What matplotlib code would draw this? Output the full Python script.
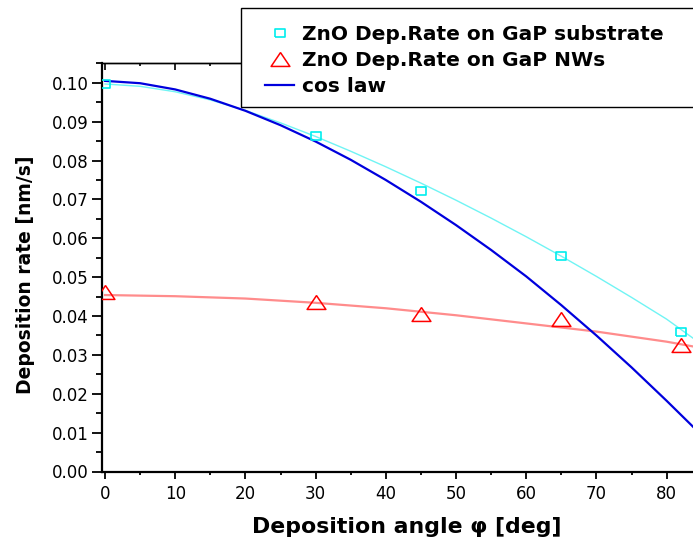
import matplotlib
matplotlib.use('Agg')
import matplotlib.pyplot as plt
from matplotlib.ticker import MultipleLocator, FormatStrFormatter
from matplotlib.lines import Line2D
from matplotlib.patches import Rectangle

# measured points
angle = [0, 30, 45, 65, 82]
rate_substrate = [0.0998, 0.0863, 0.0721, 0.0554, 0.0360]
rate_nws = [0.0461, 0.0435, 0.0405, 0.0393, 0.0326]

# fitted curves
fit_angle = [0, 5, 10, 15, 20, 25, 30, 35, 40, 45, 50, 55, 60, 65, 70, 75, 80, 84]
fit_substrate = [0.0997, 0.0991, 0.0977, 0.0956, 0.0929, 0.0897, 0.0862, 0.0824, 0.0784,
                 0.0742, 0.0698, 0.0652, 0.0604, 0.0554, 0.0502, 0.0448, 0.0392, 0.0340]
red_angle = [0, 10, 20, 30, 40, 50, 60, 70, 80, 84]
fit_nws = [0.0454, 0.0451, 0.0445, 0.0434, 0.0420, 0.0402, 0.0381, 0.0360, 0.0334, 0.0321]

# cos law curve
cos_rate = [0.1005, 0.0999, 0.0983, 0.0959, 0.0928, 0.0891, 0.0849, 0.0802, 0.0750,
            0.0694, 0.0634, 0.0570, 0.0502, 0.0428, 0.0350, 0.0268, 0.0182, 0.0111]

labels = ['ZnO Dep.Rate on GaP substrate', 'ZnO Dep.Rate on GaP NWs', 'cos law']

# wide-ish markers, the picture looks stretched horizontally
sq = [(-1.25, -1), (1.25, -1), (1.25, 1), (-1.25, 1), (-1.25, -1)]
tri = [(0, 1), (-1.35, -1), (1.35, -1), (0, 1)]

cyan = '#00eeee'
cyan_line = '#70f4f4'
red = '#ff0000'
red_line = '#ff8c8c'
blue = '#0000dd'

fig = plt.figure(figsize=(6.93, 5.42), dpi=100)
ax = fig.add_axes([102.3 / 693, 1 - 471.5 / 542, (701.7 - 102.3) / 693, (471.5 - 63) / 542])

ax.plot(fit_angle, fit_substrate, color=cyan_line, lw=1.0, zorder=2)
ax.plot(red_angle, fit_nws, color=red_line, lw=1.6, zorder=2)
ax.plot(fit_angle, cos_rate, color=blue, lw=1.6, zorder=3)
ax.plot(angle, rate_substrate, ls='none', marker=sq, ms=7, mfc='none', mec=cyan, mew=1.2, zorder=4)
ax.plot(angle, rate_nws, ls='none', marker=tri, ms=13.5, mfc='none', mec=red, mew=1.1, zorder=4)

ax.set_xlim(-0.385, 85)
ax.set_ylim(0, 0.1051)

ax.xaxis.set_major_locator(MultipleLocator(10))
ax.xaxis.set_minor_locator(MultipleLocator(5))
ax.yaxis.set_major_locator(MultipleLocator(0.01))
ax.yaxis.set_minor_locator(MultipleLocator(0.005))
ax.yaxis.set_major_formatter(FormatStrFormatter('%.2f'))

ax.tick_params(axis='x', which='major', direction='out', length=5, width=1.3, pad=4.5, labelsize=12)
ax.tick_params(axis='x', which='minor', direction='out', length=2.5, width=1.3)
ax.tick_params(axis='y', which='major', direction='out', length=7.5, width=1.3, pad=2.5, labelsize=12)
ax.tick_params(axis='y', which='minor', direction='out', length=4, width=1.3)
ax.tick_params(right=False, top=False)

for s in ['left', 'bottom']:
  ax.spines[s].set_linewidth(1.6)
ax.spines['top'].set_linewidth(1.0)
ax.spines['right'].set_visible(False)

# top axis ticks point inwards
top = ax.secondary_xaxis('top')
top.xaxis.set_major_locator(MultipleLocator(10))
top.xaxis.set_minor_locator(MultipleLocator(5))
top.tick_params(which='major', direction='in', length=5, width=1.2, labeltop=False)
top.tick_params(which='minor', direction='in', length=2.5, width=1.2)
top.spines['top'].set_linewidth(1.0)

fig.text(407 / 693, 1 - 527 / 542, 'Deposition angle \u03c6 [deg]', ha='center', va='center',
         fontsize=15.8, fontweight='bold')
fig.text(26 / 693, 1 - 275 / 542, 'Deposition rate [nm/s]', ha='center', va='center',
         rotation=90, fontsize=13.5, fontweight='bold')

# legend box
box = Rectangle((240.7 / 693, 1 - 106.7 / 542), (720 - 240.7) / 693, (106.7 - 8.3) / 542,
                transform=fig.transFigure, facecolor='white', edgecolor='black', lw=1.0, zorder=4)
fig.patches.append(box)

handles = [Line2D([], [], ls='none', marker=sq, ms=7, mfc='none', mec=cyan, mew=1.2),
           Line2D([], [], ls='none', marker=tri, ms=13.5, mfc='none', mec=red, mew=1.1),
           Line2D([], [], color=blue, lw=1.6)]
lgd = fig.legend(handles, labels, loc='upper left', bbox_to_anchor=(265 / 693, 1 - 25.3 / 542),
                 bbox_transform=fig.transFigure, frameon=False, borderpad=0, borderaxespad=0,
                 handlelength=1.45, handletextpad=0.38, labelspacing=0.33,
                 prop={'size': 14.5, 'weight': 'bold'})
lgd.set_zorder(5)

plt.savefig('out.png', dpi=100)
plt.close()
